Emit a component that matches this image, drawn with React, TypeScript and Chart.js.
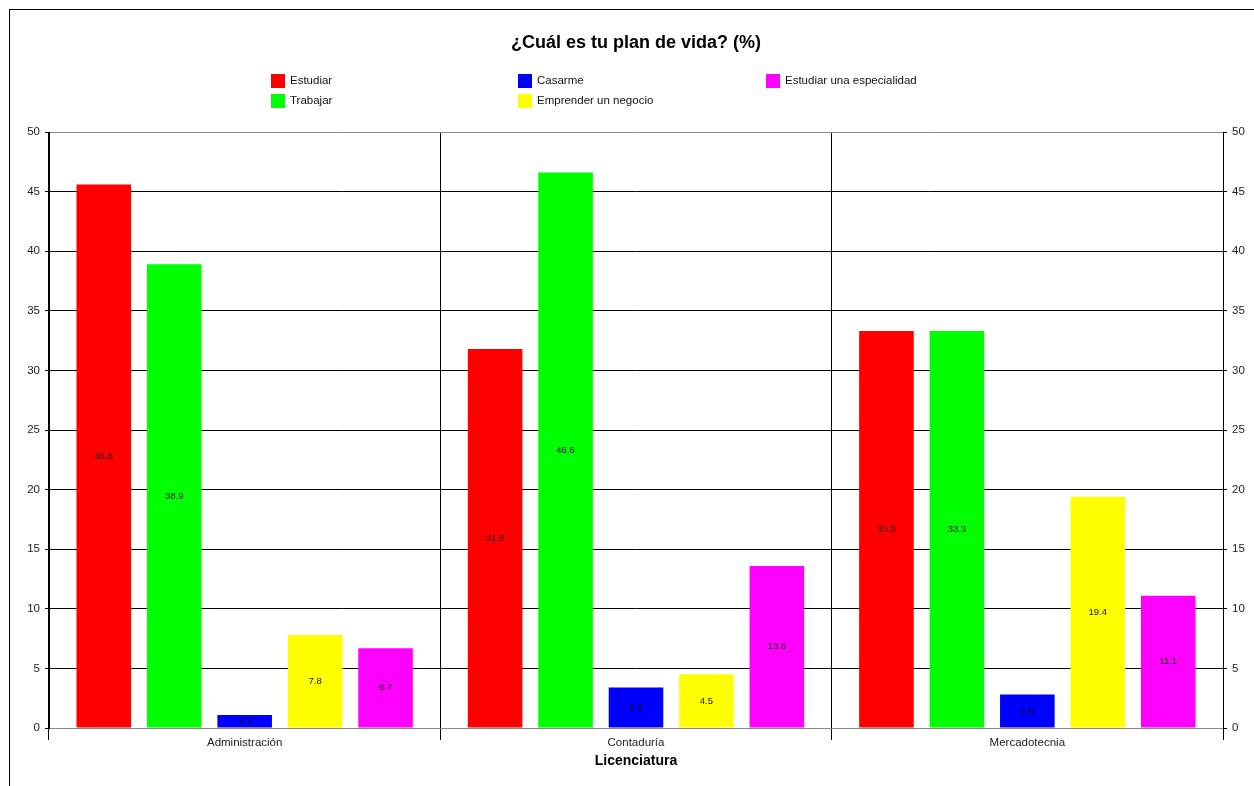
import React, { useEffect, useRef } from "react";
import { Chart, registerables } from "chart.js";

Chart.register(...registerables);

const titleText = "¿Cuál es tu plan de vida? (%)";
const xAxisTitle = "Licenciatura";
const categories = ["Administración", "Contaduría", "Mercadotecnia"];
const seriesNames = ["Estudiar", "Trabajar", "Casarme", "Emprender un negocio", "Estudiar una especialidad"];
const seriesColors = ["#ff0000", "#00ff00", "#0000ff", "#ffff00", "#ff00ff"];
const estudiar = [45.6, 31.8, 33.3];
const trabajar = [38.9, 46.6, 33.3];
const casarme = [1.1, 3.4, 2.8];
const emprender = [7.8, 4.5, 19.4];
const especialidad = [6.7, 13.6, 11.1];
const seriesValues = [estudiar, trabajar, casarme, emprender, especialidad];
const yMin = 0;
const yMax = 50;
const yStep = 5;

const FONT = "'Liberation Sans', Arial, sans-serif";

const overlayPlugin = {
  id: "overlay",
  afterDatasetsDraw(chart: any) {
    const ctx = chart.ctx;
    ctx.save();
    ctx.font = `9.5px ${FONT}`;
    ctx.fillStyle = "#111";
    ctx.textAlign = "center";
    ctx.textBaseline = "middle";
    chart.data.datasets.forEach((ds: any, i: number) => {
      const meta = chart.getDatasetMeta(i);
      meta.data.forEach((el: any, j: number) => {
        const v = ds.data[j];
        ctx.fillText(String(v), el.x, (el.y + el.base) / 2);
      });
    });
    ctx.restore();
  },
  afterDraw(chart: any) {
    const ctx = chart.ctx;
    const area = chart.chartArea;
    ctx.save();
    // title
    ctx.font = `bold 18px ${FONT}`;
    ctx.fillStyle = "#000";
    ctx.textAlign = "center";
    ctx.textBaseline = "middle";
    ctx.fillText(titleText, (area.left + area.right) / 2, 33);
    // legend (column-major, 2 rows)
    const colX = [261, 508, 756];
    const rowY = [71, 91];
    ctx.font = `11.5px ${FONT}`;
    ctx.textAlign = "left";
    chart.data.datasets.forEach((ds: any, i: number) => {
      const col = Math.floor(i / 2);
      const row = i % 2;
      const x = colX[col];
      const y = rowY[row];
      ctx.fillStyle = ds.backgroundColor;
      ctx.fillRect(x, y - 7, 14, 14);
      ctx.fillStyle = "#111";
      ctx.fillText(ds.label, x + 19, y);
    });
    ctx.restore();
  },
};

export default function App() {
  const ref = useRef<HTMLCanvasElement>(null);
  useEffect(() => {
    document.body.style.overflow = "hidden";
    const canvas = ref.current!;
    const chart = new Chart(canvas, {
      type: "bar",
      data: {
        labels: categories,
        datasets: seriesNames.map((name, i) => ({
          label: name,
          data: seriesValues[i],
          backgroundColor: seriesColors[i],
          borderWidth: 0,
          categoryPercentage: 0.9,
          barPercentage: 0.775,
        })),
      },
      options: {
        responsive: false,
        animation: false,
        layout: { padding: { top: 122, left: 0, right: 0, bottom: 0 } },
        plugins: {
          legend: { display: false },
          title: { display: false },
          tooltip: { enabled: false },
        },
        scales: {
          x: {
            grid: {
              offset: true,
              color: "#000",
              lineWidth: 1,
              tickLength: 12,
              drawOnChartArea: true,
            },
            border: { display: true, color: "#888" },
            ticks: {
              font: { family: FONT, size: 11.5 },
              color: "#222",
              padding: -4,
              maxRotation: 0,
            },
            title: {
              display: true,
              text: xAxisTitle,
              font: { family: FONT, size: 14, weight: "bold" },
              color: "#000",
              padding: { top: 0, bottom: 16 },
            },
            afterFit(scale: any) {
              scale.height = 58;
            },
          },
          y: {
            position: "left",
            min: yMin,
            max: yMax,
            ticks: {
              stepSize: yStep,
              font: { family: FONT, size: 11.5 },
              color: "#222",
              padding: 5,
            },
            grid: {
              color: (c: any) => (c.tick && (c.tick.value === yMin || c.tick.value === yMax) ? "#888" : "#000"),
              tickLength: 4,
              tickColor: "#000",
            },
            border: { display: true, color: "#000" },
            afterFit(scale: any) {
              scale.width = 39;
            },
          },
          y2: {
            position: "right",
            min: yMin,
            max: yMax,
            ticks: {
              stepSize: yStep,
              font: { family: FONT, size: 11.5 },
              color: "#222",
              padding: 5,
            },
            grid: { drawOnChartArea: false, tickLength: 4, color: "#000" },
            border: { display: true, color: "#000" },
            afterFit(scale: any) {
              scale.width = 31;
            },
          },
        },
      },
      plugins: [overlayPlugin],
    } as any);
    return () => chart.destroy();
  }, []);
  return (
    <div
      style={{
        position: "absolute",
        left: 9,
        top: 9,
        width: 1244,
        height: 776,
        borderLeft: "1px solid #000",
        borderTop: "1px solid #000",
        background: "#fff",
      }}
    >
      <canvas ref={ref} width={1244} height={776} style={{ display: "block", width: 1244, height: 776 }} />
    </div>
  );
}
